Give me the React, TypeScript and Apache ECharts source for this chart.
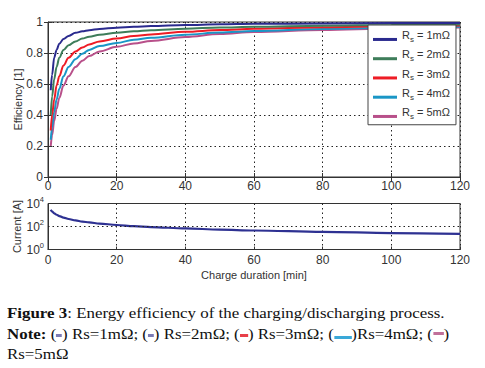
import React, { useEffect, useRef } from 'react';
import * as echarts from 'echarts';

// Charge duration [min]
const chargeMinutes = [0.8, 1.2, 1.8, 2.5, 3.3, 4.5, 6, 8, 10, 12, 15, 20, 25, 30, 40, 50, 60, 80, 100, 120];
// Efficiency [1] for each series resistance
const effRs1 = [0.56, 0.66, 0.77, 0.82, 0.86, 0.89, 0.91, 0.93, 0.94, 0.947, 0.955, 0.963, 0.969, 0.974, 0.981, 0.985, 0.988, 0.991, 0.993, 0.994];
const effRs2 = [0.40, 0.52, 0.63, 0.71, 0.77, 0.82, 0.85, 0.875, 0.893, 0.905, 0.918, 0.93, 0.94, 0.947, 0.957, 0.964, 0.969, 0.976, 0.981, 0.984];
const effRs3 = [0.30, 0.40, 0.50, 0.59, 0.65, 0.72, 0.77, 0.81, 0.835, 0.855, 0.875, 0.893, 0.91, 0.92, 0.937, 0.948, 0.956, 0.966, 0.972, 0.977];
const effRs4 = [0.24, 0.32, 0.42, 0.50, 0.57, 0.65, 0.71, 0.76, 0.795, 0.82, 0.845, 0.865, 0.885, 0.898, 0.918, 0.932, 0.942, 0.955, 0.963, 0.969];
const effRs5 = [0.20, 0.27, 0.36, 0.44, 0.51, 0.59, 0.65, 0.71, 0.75, 0.78, 0.81, 0.84, 0.862, 0.878, 0.903, 0.922, 0.935, 0.949, 0.958, 0.964];
// Current [A]
const currentA = [2900, 2000, 1400, 1050, 800, 600, 450, 340, 270, 225, 180, 135, 108, 90, 68, 54, 45, 34, 27, 23];

const seriesNames = ['Rs = 1mΩ', 'Rs = 2mΩ', 'Rs = 3mΩ', 'Rs = 4mΩ', 'Rs = 5mΩ'];
const seriesColors = ['#2a2a8e', '#3e7d5a', '#ee1c25', '#1a96c6', '#b8508a'];
const effSeries = [effRs1, effRs2, effRs3, effRs4, effRs5];
const currentColor = '#2e3192';

const FONT = '"Liberation Sans", Arial, Helvetica, sans-serif';
const AX = '#333';
const dotted = { color: '#222', width: 1, type: [1.5, 3] as number[] };

export default function App() {
  const ref = useRef<HTMLDivElement>(null);
  useEffect(() => {
    const chart = echarts.init(ref.current!, null, { renderer: 'svg' });
    const pair = (ys: number[]) => chargeMinutes.map((t, i) => [t, ys[i]]);
    const option: any = {
      animation: false,
      textStyle: { fontFamily: FONT },
      grid: [
        { left: 48, right: 25, top: 22, height: 155, show: true, borderColor: AX, borderWidth: 1, backgroundColor: 'transparent' },
        { left: 48, right: 25, top: 203.5, height: 46, show: true, borderColor: AX, borderWidth: 1, backgroundColor: 'transparent' },
      ],
      xAxis: [
        {
          gridIndex: 0, type: 'value', min: 0, max: 120, interval: 20,
          axisLine: { lineStyle: { color: AX } },
          axisTick: { inside: true, length: 4, lineStyle: { color: AX } },
          axisLabel: { color: AX, fontSize: 12, margin: 3, fontFamily: FONT },
          splitLine: { show: true, lineStyle: dotted },
        },
        {
          gridIndex: 0, type: 'value', min: 0, max: 120, interval: 20, position: 'top',
          axisLine: { show: false }, axisTick: { inside: true, length: 4, lineStyle: { color: AX } },
          axisLabel: { show: false }, splitLine: { show: false },
        },
        {
          gridIndex: 1, type: 'value', min: 0, max: 120, interval: 20,
          name: 'Charge duration [min]', nameLocation: 'middle', nameGap: 20, nameMoveOverlap: false,
          nameTextStyle: { color: AX, fontSize: 11, lineHeight: 11, fontFamily: FONT },
          axisLine: { lineStyle: { color: AX } },
          axisTick: { inside: true, length: 3, lineStyle: { color: AX } },
          axisLabel: { color: AX, fontSize: 12, lineHeight: 11, margin: 5, fontFamily: FONT },
          splitLine: { show: true, lineStyle: dotted },
        },
      ],
      yAxis: [
        {
          gridIndex: 0, type: 'value', min: 0, max: 1, interval: 0.2,
          name: 'Efficiency [1]', nameLocation: 'middle', nameGap: 25, nameMoveOverlap: false,
          nameTextStyle: { color: AX, fontSize: 11, fontFamily: FONT },
          axisLine: { show: true, lineStyle: { color: AX } },
          axisTick: { show: true, inside: true, length: 4, lineStyle: { color: AX } },
          axisLabel: { color: AX, fontSize: 12, margin: 5, fontFamily: FONT },
          splitLine: { show: true, lineStyle: dotted },
        },
        {
          gridIndex: 0, type: 'value', min: 0, max: 1, interval: 0.2, position: 'right',
          axisLine: { show: false }, axisTick: { show: true, inside: true, length: 4, lineStyle: { color: AX } },
          axisLabel: { show: false }, splitLine: { show: false },
        },
        {
          gridIndex: 1, type: 'log', logBase: 10, min: 1, max: 10000,
          name: 'Current [A]', nameLocation: 'middle', nameGap: 26, nameMoveOverlap: false,
          nameTextStyle: { color: AX, fontSize: 11, fontFamily: FONT },
          axisLine: { show: true, lineStyle: { color: AX } },
          axisTick: { show: false },
          splitLine: { show: false },
          axisLabel: {
            margin: 4,
            formatter: (v: number) => {
              const e = Math.round(Math.log10(v));
              return e % 2 === 0 ? `{b|10}{e|${e}}` : '';
            },
            rich: {
              b: { fontSize: 12, lineHeight: 16, color: AX, fontFamily: FONT, verticalAlign: 'middle' },
              e: { fontSize: 7.5, lineHeight: 7, color: AX, fontFamily: FONT, verticalAlign: 'top' },
            },
          },
        },
      ],
      legend: {
        data: seriesNames,
        orient: 'vertical',
        left: 368, top: 25,
        padding: [4.7, 6, 4.3, 5],
        itemGap: 5.5,
        itemWidth: 24, itemHeight: 3,
        icon: 'rect',
        backgroundColor: '#fff',
        borderColor: '#444', borderWidth: 1,
        borderRadius: 0,
        z: 20,
        formatter: (name: string) => `{r|R}{s|s}{t|${name.slice(2)}}`,
        textStyle: {
          rich: {
            r: { fontSize: 11, lineHeight: 9, verticalAlign: 'top', color: '#333', fontFamily: FONT },
            s: { fontSize: 8, lineHeight: 19.5, verticalAlign: 'middle', color: '#333', fontFamily: FONT },
            t: { fontSize: 11, lineHeight: 9, verticalAlign: 'top', color: '#333', fontFamily: FONT },
          },
        },
      },
      series: [
        ...effSeries.map((ys, i) => ({
          name: seriesNames[i], type: 'line', xAxisIndex: 0, yAxisIndex: 0,
          data: pair(ys), showSymbol: false, smooth: 0.35, smoothMonotone: 'x',
          lineStyle: { color: seriesColors[i], width: 2 }, itemStyle: { color: seriesColors[i] },
          z: 5 - i,
        })),
        {
          name: 'Current', type: 'line', xAxisIndex: 2, yAxisIndex: 2,
          data: pair(currentA), showSymbol: false, smooth: 0.35, smoothMonotone: 'x',
          lineStyle: { color: currentColor, width: 2.2 }, itemStyle: { color: currentColor },
          markLine: {
            silent: true, symbol: 'none', label: { show: false },
            lineStyle: dotted,
            data: [{ yAxis: 100 }],
          },
        },
      ],
    };
    chart.setOption(option);
    return () => chart.dispose();
  }, []);

  const bar = (color: string, w: number, dy = 0) => (
    <span style={{ display: 'inline-block', width: w, height: 3, background: color, verticalAlign: 'middle', position: 'relative', top: dy }} />
  );

  return (
    <div style={{ position: 'absolute', left: 0, top: 0, width: 485, height: 368, background: '#fff', overflow: 'hidden' }}>
      <div ref={ref} style={{ position: 'absolute', left: 0, top: 0, width: 485, height: 290 }} />
      <div style={{ position: 'absolute', left: 7, top: 303, width: 420, fontFamily: '"Liberation Serif", "Times New Roman", serif', fontSize: 14.5, lineHeight: '20.5px', color: '#111', whiteSpace: 'nowrap', transform: 'scaleX(1.165)', transformOrigin: '0 0' }}>
        <div><b>Figure 3</b>: Energy efficiency of the charging/discharging process.</div>
        <div>
          <b>Note:</b> ({bar('#7b7bb4', 5)}) Rs=1mΩ; ({bar('#7b7bb4', 5)}) Rs=2mΩ; ({bar('#e8404a', 7)}) Rs=3mΩ; ({bar('#3aa8d8', 15, 2)})Rs=4mΩ; ({bar('#c0709a', 9, -2)})
        </div>
        <div>Rs=5mΩ</div>
      </div>
    </div>
  );
}
